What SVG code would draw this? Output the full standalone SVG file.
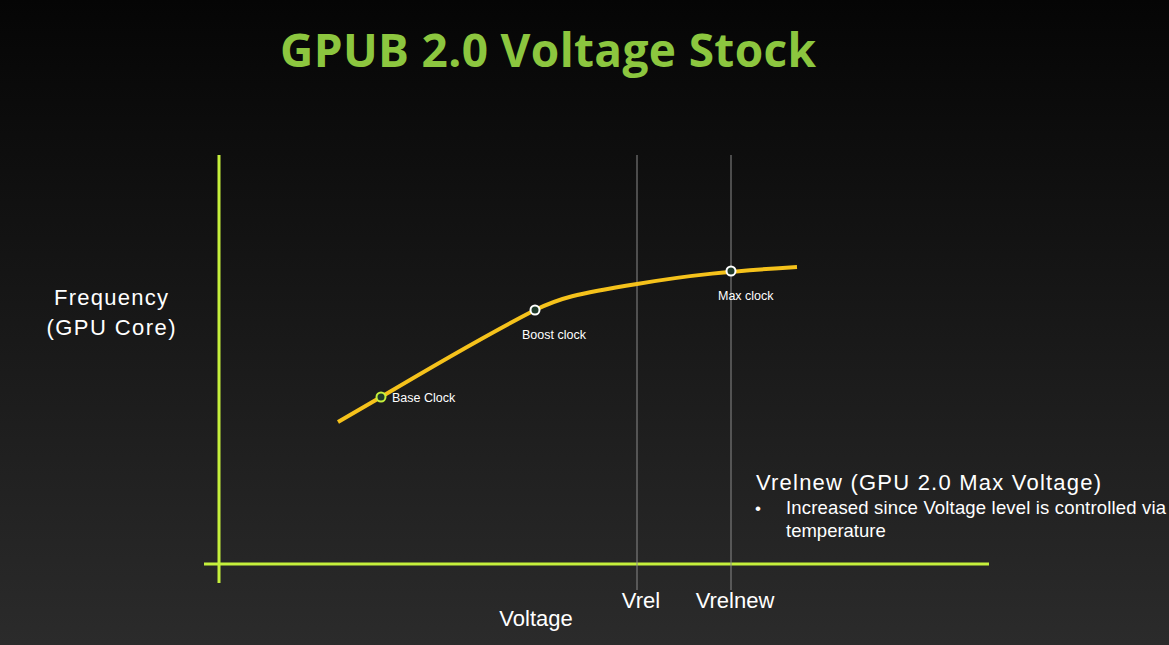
<svg xmlns="http://www.w3.org/2000/svg" width="1169" height="645" viewBox="0 0 1169 645">
<defs>
<linearGradient id="bg" x1="0" y1="0" x2="0" y2="1"><stop offset="0" stop-color="#050505"/><stop offset="1" stop-color="#2b2b2b"/></linearGradient>
<style>
.t{font-family:"Liberation Sans",Arial,sans-serif;fill:#ffffff}
.s{font-size:12.5px}
.m{font-size:22px}
.axis{stroke:#c5f03c;stroke-width:3;fill:none}
.v{stroke:#8a8a8a;stroke-width:1}
</style>
</defs>
<rect width="1169" height="645" fill="url(#bg)"/>
<text x="548" y="67" text-anchor="middle" textLength="536" style="font-family:'Open Sans','Liberation Sans',sans-serif;font-weight:bold;font-size:46px;fill:#8cc63f">GPUB 2.0 Voltage Stock</text>
<g id="axes">
<line class="axis" x1="219" y1="155" x2="219" y2="583"/>
<line class="axis" x1="204" y1="564" x2="989" y2="564"/>
<line class="v" x1="637" y1="155" x2="637" y2="590"/>
<line class="v" x1="731" y1="155" x2="731" y2="590"/>
</g>
<g id="curve">
<path d="M338,422 L381,397 C450,356 500,328 535,310 C560,298 575,294 637,284 C690,275 731,271 797,267" stroke="#f5c21b" stroke-width="4" fill="none"/>
</g>
<g id="base"><circle cx="381" cy="397" r="4.5" fill="#1f3a2a" stroke="#c5f03c" stroke-width="2"/><text class="t s" x="392" y="402">Base Clock</text></g>
<g id="boost"><circle cx="535" cy="310" r="4.5" fill="#1f3a2a" stroke="#fff" stroke-width="2"/><text class="t s" x="522" y="339">Boost clock</text></g>
<g id="max"><circle cx="731" cy="271" r="4.5" fill="#1f3a2a" stroke="#fff" stroke-width="2"/><text class="t s" x="718" y="300">Max clock</text></g>
<text class="t m" x="111" y="305" text-anchor="middle" textLength="114">Frequency</text>
<text class="t m" x="111" y="335" text-anchor="middle" textLength="129">(GPU Core)</text>
<text class="t m" x="536" y="626" text-anchor="middle">Voltage</text>
<text class="t m" x="641" y="608" text-anchor="middle">Vrel</text>
<text class="t m" x="735" y="608" text-anchor="middle">Vrelnew</text>
<text class="t m" x="756" y="490" textLength="345">Vrelnew (GPU 2.0 Max Voltage)</text>
<text class="t" x="755" y="514" style="font-size:17px">•</text>
<text class="t" x="786" y="514" style="font-size:18.5px" textLength="380">Increased since Voltage level is controlled via</text>
<text class="t" x="786" y="537" style="font-size:18.5px">temperature</text>
</svg>
